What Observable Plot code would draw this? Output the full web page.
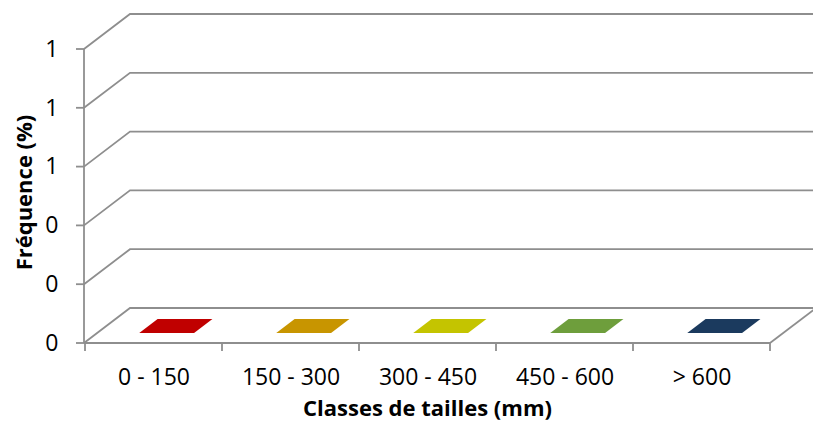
<!DOCTYPE html>
<html>
<head>
<meta charset="utf-8">
<script src="https://cdn.jsdelivr.net/npm/d3@7"></script>
<script src="https://cdn.jsdelivr.net/npm/@observablehq/plot@0.6"></script>
<style>
  html, body { margin: 0; padding: 0; background: #ffffff; }
</style>
</head>
<body>
<div id="chart"></div>
<script>
// ---- data ----
const categories = ["0 - 150", "150 - 300", "300 - 450", "450 - 600", "> 600"];
const frequencies = [0, 0, 0, 0, 0];
const barColors = ["#C00000", "#C89500", "#C4C400", "#6E9E3C", "#1B3A5E"];
const yTicks = [0, 0.2, 0.4, 0.6, 0.8, 1];
const yDomain = [0, 1];
const xLabel = "Classes de tailles (mm)";
const yLabel = "Fréquence (%)";

// ---- style constants ----
const DX = 46, DY = 35;           // oblique depth offset (px)
const GRID = "#8e8e8e";
const FONT = "'Open Sans', 'Noto Sans', sans-serif";

const rows = categories.map((c, i) => ({cat: c, value: frequencies[i], color: barColors[i]}));

function frame3d(index, scales, values, dims) {
  const {x, y} = scales;
  const x0 = dims.marginLeft, x1 = dims.width - dims.marginRight;
  const g = d3.create("svg:g")
    .attr("fill", "none")
    .attr("stroke", GRID)
    .attr("stroke-width", 1.8);
  for (const v of yTicks) {
    const yy = y(v);
    g.append("path").attr("d", `M${x0},${yy}L${x0 + DX},${yy - DY}L${x1 + DX},${yy - DY}`);
    g.append("path").attr("d", `M${x0 - 8},${yy}L${x0},${yy}`);
  }
  const y0 = y(yDomain[0]);
  g.append("path").attr("d", `M${x1},${y0}L${x1 + DX},${y0 - DY}`);
  g.append("path").attr("d", `M${x0},${y0}L${x1},${y0}`);
  g.append("path").attr("d", `M${x0},${y0}L${x0},${y(yDomain[1])}`);
  const bounds = categories.map(c => x(c)).concat([x1]);
  for (const bx of bounds) {
    g.append("path").attr("d", `M${bx},${y0}L${bx},${y0 + 8}`);
  }
  return g.node();
}

function bars3d(index, scales, values, dims) {
  const {x, y} = scales;
  const x0 = dims.marginLeft, x1 = dims.width - dims.marginRight;
  const bw = x.bandwidth ? x.bandwidth() : (x1 - x0) / categories.length;
  const hw = 0.2 * bw, f0 = 0.286, f1 = 0.686;
  const g = d3.create("svg:g");
  for (const i of index) {
    const r = rows[i];
    const xc = x(r.cat) + bw / 2;
    const yb = y(0), yt = y(r.value);
    const fx0 = f0 * DX, fy0 = f0 * DY, fx1 = f1 * DX, fy1 = f1 * DY;
    const L = xc - hw, R = xc + hw;
    if (yb - yt > 0.5) {
      g.append("path").attr("fill", r.color)
        .attr("d", `M${L + fx0},${yb - fy0}L${R + fx0},${yb - fy0}L${R + fx0},${yt - fy0}L${L + fx0},${yt - fy0}Z`);
      g.append("path").attr("fill", d3.color(r.color).darker(0.6))
        .attr("d", `M${R + fx0},${yb - fy0}L${R + fx1},${yb - fy1}L${R + fx1},${yt - fy1}L${R + fx0},${yt - fy0}Z`);
    }
    g.append("path").attr("fill", r.color)
      .attr("d", `M${L + fx0},${yt - fy0}L${R + fx0},${yt - fy0}L${R + fx1},${yt - fy1}L${L + fx1},${yt - fy1}Z`);
  }
  return g.node();
}

const chart = Plot.plot({
  width: 813,
  height: 430,
  marginLeft: 84,
  marginRight: 43,
  marginTop: 49,
  marginBottom: 87,
  style: {fontFamily: FONT, fontSize: "23px", color: "#000", background: "#fff"},
  x: {type: "band", domain: categories, paddingInner: 0, paddingOuter: 0},
  y: {domain: yDomain},
  marks: [
    Plot.ruleY(yTicks, {render: frame3d}),
    Plot.barY(rows, {x: "cat", y: "value", render: bars3d}),
    Plot.axisY({ticks: yTicks, tickFormat: d3.format(".0f"), tickSize: 0, tickPadding: 26, label: null}),
    Plot.axisX({tickSize: 0, tickPadding: 25, label: null}),
    Plot.text([xLabel], {text: d => d, frameAnchor: "bottom", dy: 72, fontWeight: "bold", fontSize: 22}),
    Plot.text([yLabel], {text: d => d, frameAnchor: "left", textAnchor: "middle", rotate: -90, dx: -60, dy: -4, fontWeight: "bold", fontSize: 22})
  ]
});
document.getElementById("chart").appendChild(chart);
</script>
</body>
</html>
